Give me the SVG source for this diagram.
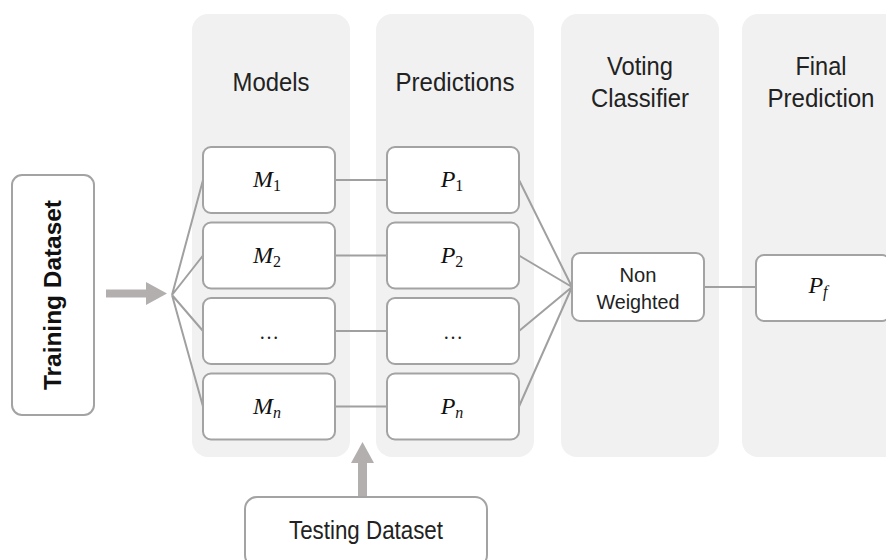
<svg xmlns="http://www.w3.org/2000/svg" width="886" height="560" viewBox="0 0 886 560">
  <style>
    .col { fill: #f1f1f1; }
    .box { fill: #ffffff; stroke: #a3a3a3; stroke-width: 2; }
    .title { font-family: "Liberation Sans", Arial, sans-serif; font-size: 25px; fill: #222; text-anchor: middle; }
    .lbl { font-family: "Liberation Sans", Arial, sans-serif; font-size: 20px; fill: #222; text-anchor: middle; }
    .math { font-family: "Liberation Serif", "Times New Roman", serif; font-size: 24px; font-style: italic; fill: #111; text-anchor: middle; }
    .sub { font-size: 16px; font-style: normal; }
    .subi { font-size: 16px; font-style: italic; }
    .dots { font-family: "Liberation Serif", serif; font-size: 20px; fill: #222; text-anchor: middle; }
    .link { stroke: #a0a0a0; stroke-width: 2; fill: none; }
    .flow { fill: #b3afaf; }
  </style>

  <!-- background columns -->
  <g id="columns">
    <rect class="col" x="192" y="14" width="158" height="443" rx="16"/>
    <rect class="col" x="376" y="14" width="158" height="443" rx="16"/>
    <rect class="col" x="561" y="14" width="158" height="443" rx="16"/>
    <rect class="col" x="742" y="14" width="158" height="443" rx="16"/>
    <text class="title" x="271" y="91" textLength="77" lengthAdjust="spacingAndGlyphs">Models</text>
    <text class="title" x="455" y="91" textLength="119" lengthAdjust="spacingAndGlyphs">Predictions</text>
    <text class="title" x="640" y="75" textLength="66" lengthAdjust="spacingAndGlyphs">Voting</text>
    <text class="title" x="640" y="107" textLength="98" lengthAdjust="spacingAndGlyphs">Classifier</text>
    <text class="title" x="821" y="75" textLength="51" lengthAdjust="spacingAndGlyphs">Final</text>
    <text class="title" x="821" y="107" textLength="107" lengthAdjust="spacingAndGlyphs">Prediction</text>
  </g>

  <!-- connectors -->
  <g id="connectors">
    <!-- fan out from the training input -->
    <path class="link" d="M172 295 L203 180 M172 295 L203 255.5 M172 295 L203 331 M172 295 L203 406.5"/>
    <!-- models to predictions -->
    <path class="link" d="M335 180 H387 M335 255.5 H387 M335 331 H387 M335 406.5 H387"/>
    <!-- predictions into the voter -->
    <path class="link" d="M519 180 L572 287 M519 255.5 L572 287 M519 331 L572 287 M519 406.5 L572 287"/>
    <!-- voter to final prediction -->
    <path class="link" d="M704 287 H756" stroke-width="3"/>
    <!-- thick input arrows -->
    <path class="flow" d="M106 289.5 H146 V282 L167 293.5 L146 305 V297.5 H106 Z"/>
    <path class="flow" d="M358 497 V463 H351 L362.5 442 L374 463 H367 V497 Z"/>
  </g>

  <g id="training">
    <rect class="box" x="12" y="175" width="82" height="240" rx="10"/>
    <text transform="translate(61 295) rotate(-90)" text-anchor="middle" font-family="Liberation Sans, Arial, sans-serif" font-size="24" font-weight="bold" fill="#111" textLength="190" lengthAdjust="spacingAndGlyphs">Training Dataset</text>
  </g>

  <g id="m1"><rect class="box" x="203" y="147" width="132" height="66" rx="8"/><text class="math" x="267" y="187">M<tspan class="sub" dy="4">1</tspan></text></g>
  <g id="m2"><rect class="box" x="203" y="222.5" width="132" height="66" rx="8"/><text class="math" x="267" y="262.5">M<tspan class="sub" dy="4">2</tspan></text></g>
  <g id="m3"><rect class="box" x="203" y="298" width="132" height="66" rx="8"/><text class="dots" x="269" y="339">…</text></g>
  <g id="mn"><rect class="box" x="203" y="373.5" width="132" height="66" rx="8"/><text class="math" x="267" y="413.5">M<tspan class="subi" dy="4">n</tspan></text></g>

  <g id="p1"><rect class="box" x="387" y="147" width="132" height="66" rx="8"/><text class="math" x="452" y="187">P<tspan class="sub" dy="4">1</tspan></text></g>
  <g id="p2"><rect class="box" x="387" y="222.5" width="132" height="66" rx="8"/><text class="math" x="452" y="262.5">P<tspan class="sub" dy="4">2</tspan></text></g>
  <g id="p3"><rect class="box" x="387" y="298" width="132" height="66" rx="8"/><text class="dots" x="453" y="339">…</text></g>
  <g id="pn"><rect class="box" x="387" y="373.5" width="132" height="66" rx="8"/><text class="math" x="452" y="413.5">P<tspan class="subi" dy="4">n</tspan></text></g>

  <g id="voter">
    <rect class="box" x="572" y="253" width="132" height="68" rx="8" stroke-width="3"/>
    <text class="lbl" x="638" y="282" textLength="37" lengthAdjust="spacingAndGlyphs">Non</text>
    <text class="lbl" x="638" y="309" textLength="83" lengthAdjust="spacingAndGlyphs">Weighted</text>
  </g>

  <g id="final">
    <rect class="box" x="756" y="255" width="134" height="66" rx="8" stroke-width="3"/>
    <text class="math" x="818" y="293">P<tspan class="subi" dy="4">f</tspan></text>
  </g>

  <g id="testing">
    <rect class="box" x="245" y="497" width="242" height="70" rx="12" stroke-width="3"/>
    <text class="title" x="366" y="539" textLength="154" lengthAdjust="spacingAndGlyphs">Testing Dataset</text>
  </g>
</svg>
